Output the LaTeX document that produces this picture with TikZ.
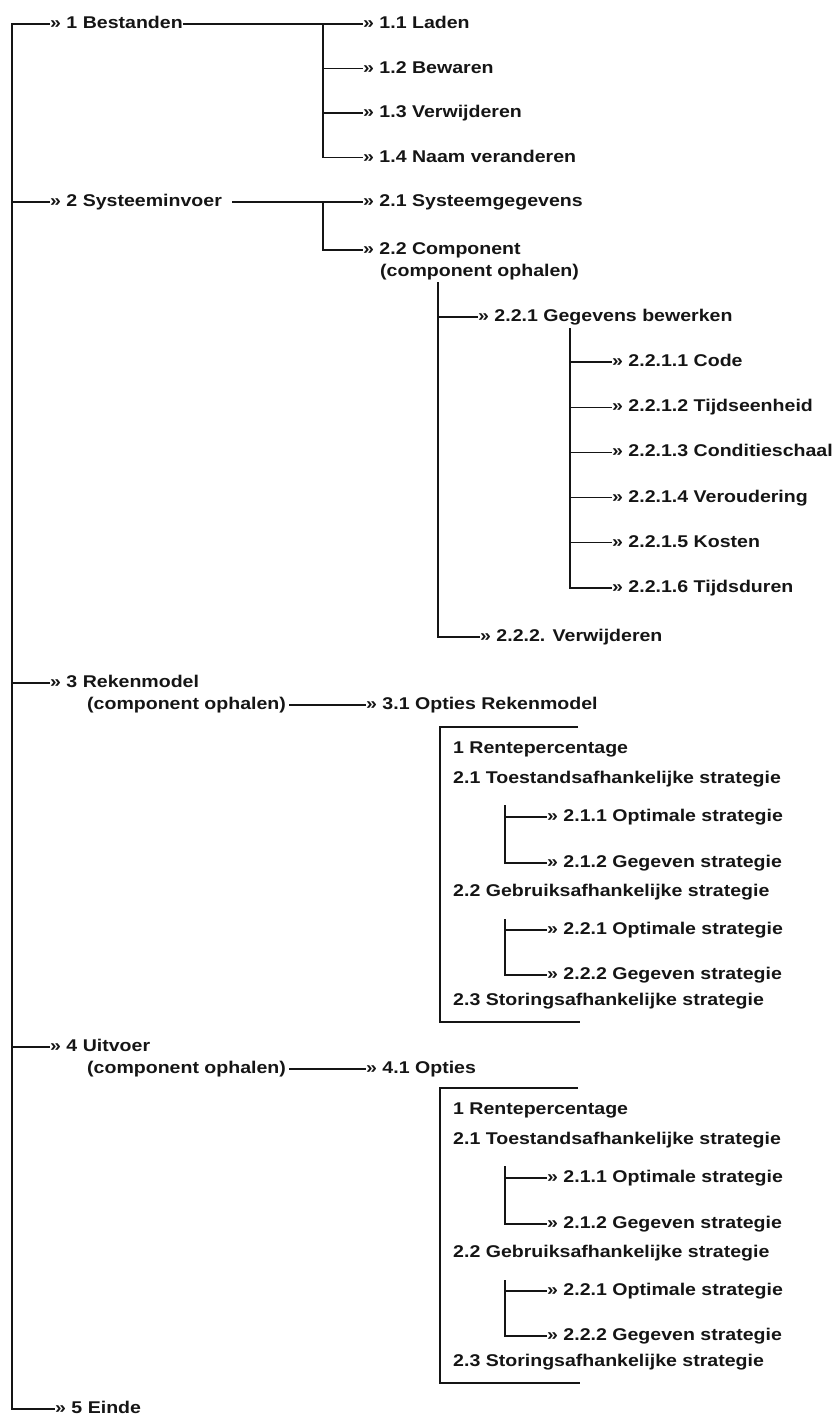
\documentclass[tikz,border=0pt]{standalone}
\usepackage{fontspec}
\usepackage{xcolor,tikz}
\usetikzlibrary{calc}
\newfontfamily\menufont[FakeStretch=1.15]{Liberation Sans}
\definecolor{menuInk}{HTML}{151515}

\begin{document}
\begin{tikzpicture}[x=1pt, y=-1pt,
  menuline/.style={line width=1.3pt, color=menuInk},
  menuitem/.style={anchor=west, inner sep=0pt, text height=9pt, text depth=0pt,
    text=menuInk, font=\menufont\bfseries\fontsize{17}{20}\selectfont}]
\useasboundingbox (0,0) rectangle (839,1416);

% --- PARAMETERS ---
\def\xTrunk{12}     % main vertical line
\def\xA{50}         % level 1 guillemets
\def\xBr{323}       % level 2 branch line
\def\xB{363}        % level 2 guillemets
\def\rowA{44.5}     % row step under 1 Bestanden
\def\rowD{45.2}     % row step under 2.2.1

% --- LEVEL 1 ---
\node[menuitem] (m1) at (\xA,24) {» 1 Bestanden};
\node[menuitem] (m2) at (\xA,202) {» 2 Systeeminvoer};
\node[menuitem] (m3) at (\xA,683) {» 3 Rekenmodel};
\node[menuitem] (m3b) at (87,705) {(component ophalen)};
\node[menuitem] (m4) at (\xA,1047) {» 4 Uitvoer};
\node[menuitem] (m4b) at (87,1069) {(component ophalen)};
\node[menuitem] (m5) at (55,1409) {» 5 Einde};

\coordinate (trunk) at (\xTrunk,24);
\draw[menuline] (m1.west) -- (trunk) |- (m5.west);
\foreach \k in {2,3,4}
  \draw[menuline] (trunk|-m\k.west) -- (m\k.west);

% --- 1 BESTANDEN ---
\foreach [count=\i] \lbl in {Laden,Bewaren,Verwijderen,Naam veranderen} {
  \pgfmathsetmacro\ypos{24 + (\i - 1) * \rowA}
  \node[menuitem] (m1\i) at (\xB,\ypos) {» 1.\i{} \lbl};
}
\coordinate (b1) at (\xBr,24);
\draw[menuline] (m1.east) -- (m11.west);
\draw[menuline] (b1) |- (m14.west);
\foreach \i in {2,3}
  \draw[menuline] (b1|-m1\i.west) -- (m1\i.west);

% --- 2 SYSTEEMINVOER ---
\node[menuitem] (m21) at (\xB,202) {» 2.1 Systeemgegevens};
\node[menuitem] (m22) at (\xB,250) {» 2.2 Component};
\node[menuitem] (m22b) at (380,272) {(component ophalen)};
\coordinate (b2) at (\xBr,202);
\draw[menuline] ([xshift=10pt]m2.east) -- (m21.west);
\draw[menuline] (b2) |- (m22.west);

% 2.2 children
\node[menuitem] (m221) at (478,317) {» 2.2.1 Gegevens bewerken};
\node[menuitem] (m222) at (480,637) {» 2.2.2. Verwijderen};
\coordinate (b22) at (438,282);
\draw[menuline] (b22) |- (m222.west);
\draw[menuline] (b22|-m221.west) -- (m221.west);

% 2.2.1 children
\foreach [count=\i] \lbl in {Code,Tijdseenheid,Conditieschaal,Veroudering,Kosten,Tijdsduren} {
  \pgfmathsetmacro\ypos{362 + (\i - 1) * \rowD}
  \node[menuitem] (m221\i) at (612,\ypos) {» 2.2.1.\i{} \lbl};
}
\coordinate (b221) at (570,328);
\draw[menuline] (b221) |- (m2216.west);
\foreach \i in {1,...,5}
  \draw[menuline] (b221|-m221\i.west) -- (m221\i.west);

% --- 3 REKENMODEL / 4 UITVOER ---
\node[menuitem] (m31) at (366,705) {» 3.1 Opties Rekenmodel};
\node[menuitem] (m41) at (366,1069) {» 4.1 Opties};
\draw[menuline] ([xshift=3pt]m3b.east) -- (m31.west);
\draw[menuline] ([xshift=3pt]m4b.east) -- (m41.west);

% --- OPTION BOXES (same content twice) ---
\foreach \bx/\by in {r/727, u/1088} {
  \pgfmathsetmacro\yBot{\by + 295}
  \draw[menuline] (578,\by) -| (440,\yBot) -- (580,\yBot);
  \pgfmathsetmacro\ya{\by + 22}
  \pgfmathsetmacro\yb{\by + 52}
  \pgfmathsetmacro\yc{\by + 90}
  \pgfmathsetmacro\yd{\by + 136}
  \pgfmathsetmacro\ye{\by + 165}
  \pgfmathsetmacro\yf{\by + 203}
  \pgfmathsetmacro\yg{\by + 248}
  \pgfmathsetmacro\yh{\by + 274}
  \node[menuitem] (\bx-1) at (453,\ya) {1 Rentepercentage};
  \node[menuitem] (\bx-21) at (453,\yb) {2.1 Toestandsafhankelijke strategie};
  \node[menuitem] (\bx-211) at (547,\yc) {» 2.1.1 Optimale strategie};
  \node[menuitem] (\bx-212) at (547,\yd) {» 2.1.2 Gegeven strategie};
  \node[menuitem] (\bx-22) at (453,\ye) {2.2 Gebruiksafhankelijke strategie};
  \node[menuitem] (\bx-221) at (547,\yf) {» 2.2.1 Optimale strategie};
  \node[menuitem] (\bx-222) at (547,\yg) {» 2.2.2 Gegeven strategie};
  \node[menuitem] (\bx-23) at (453,\yh) {2.3 Storingsafhankelijke strategie};
  % sub branches
  \pgfmathsetmacro\yv{\by + 78}
  \pgfmathsetmacro\yw{\by + 192}
  \draw[menuline] (505,\yv) |- (\bx-212.west);
  \draw[menuline] (505,\yc) -- (\bx-211.west);
  \draw[menuline] (505,\yw) |- (\bx-222.west);
  \draw[menuline] (505,\yf) -- (\bx-221.west);
}

\end{tikzpicture}
\end{document}
